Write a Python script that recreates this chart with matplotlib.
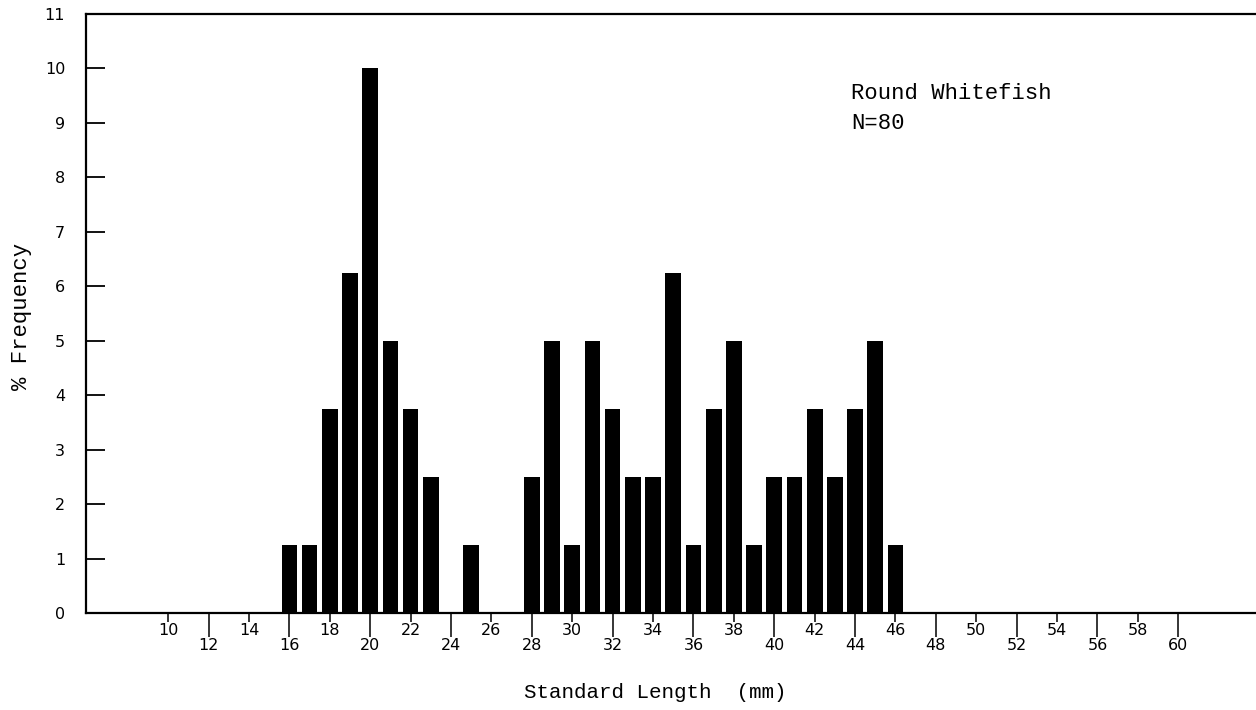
import matplotlib
matplotlib.use("Agg")
import matplotlib.pyplot as plt
import numpy as np

# Data: standard length (mm) and % frequency
lengths = [16, 17, 18, 19, 20, 21, 22, 23, 25, 28, 29, 30, 31, 32, 33, 34, 35,
           36, 37, 38, 39, 40, 41, 42, 43, 44, 45, 46]
freq = [1.25, 1.25, 3.75, 6.25, 10.0, 5.0, 3.75, 2.5, 1.25, 2.5, 5.0, 1.25,
        5.0, 3.75, 2.5, 2.5, 6.25, 1.25, 3.75, 5.0, 1.25, 2.5, 2.5, 3.75, 2.5,
        3.75, 5.0, 1.25]
y_ticks = list(range(0, 12))
x_ticks_low = list(range(12, 61, 4))   # long ticks, lower labels
x_ticks_high = list(range(10, 59, 4))  # short ticks, upper labels

W, H = 1256, 710
fig = plt.figure(figsize=(W / 100, H / 100), dpi=100)
ax = fig.add_axes([86 / W, 1 - 613 / H, 1 - 86 / W, (613 - 14) / H])

ax.bar(lengths, freq, width=0.78, color="black", edgecolor="none")

ax.set_xlim(5.93, 63.85)
ax.set_ylim(0, 11)

tick_font = dict(family="DejaVu Sans", size=11.5)

ax.set_yticks(y_ticks)
ax.set_yticklabels([str(v) for v in y_ticks], **tick_font)
ax.tick_params(axis="y", direction="in", length=14, width=1.3, pad=15)

ax.set_xticks(x_ticks_low)
ax.set_xticklabels([str(v) for v in x_ticks_low], **tick_font)
ax.set_xticks(x_ticks_high, minor=True)
ax.set_xticklabels([str(v) for v in x_ticks_high], minor=True, **tick_font)
ax.tick_params(axis="x", which="major", direction="out", length=17.5,
               width=1.1, pad=0.3)
ax.tick_params(axis="x", which="minor", direction="out", length=6.5,
               width=1.1, pad=0.5)
ax.tick_params(axis="y", which="minor", left=False)

for s in ["left", "top", "bottom"]:
    ax.spines[s].set_linewidth(1.6)
ax.spines["right"].set_visible(False)

label_font = "Liberation Mono"
fig.text(851 / W, 1 - 83 / H, "Round Whitefish\nN=80", family=label_font,
         fontsize=16, ha="left", va="top", linespacing=1.55)
fig.text(524 / W, 1 - 692 / H, "Standard Length  (mm)", family=label_font,
         fontsize=15, ha="left", va="center")
fig.text(22 / W, 1 - 316 / H, "% Frequency", family=label_font,
         fontsize=16, rotation=90, ha="center", va="center")

fig.savefig("out.png", dpi=100)
